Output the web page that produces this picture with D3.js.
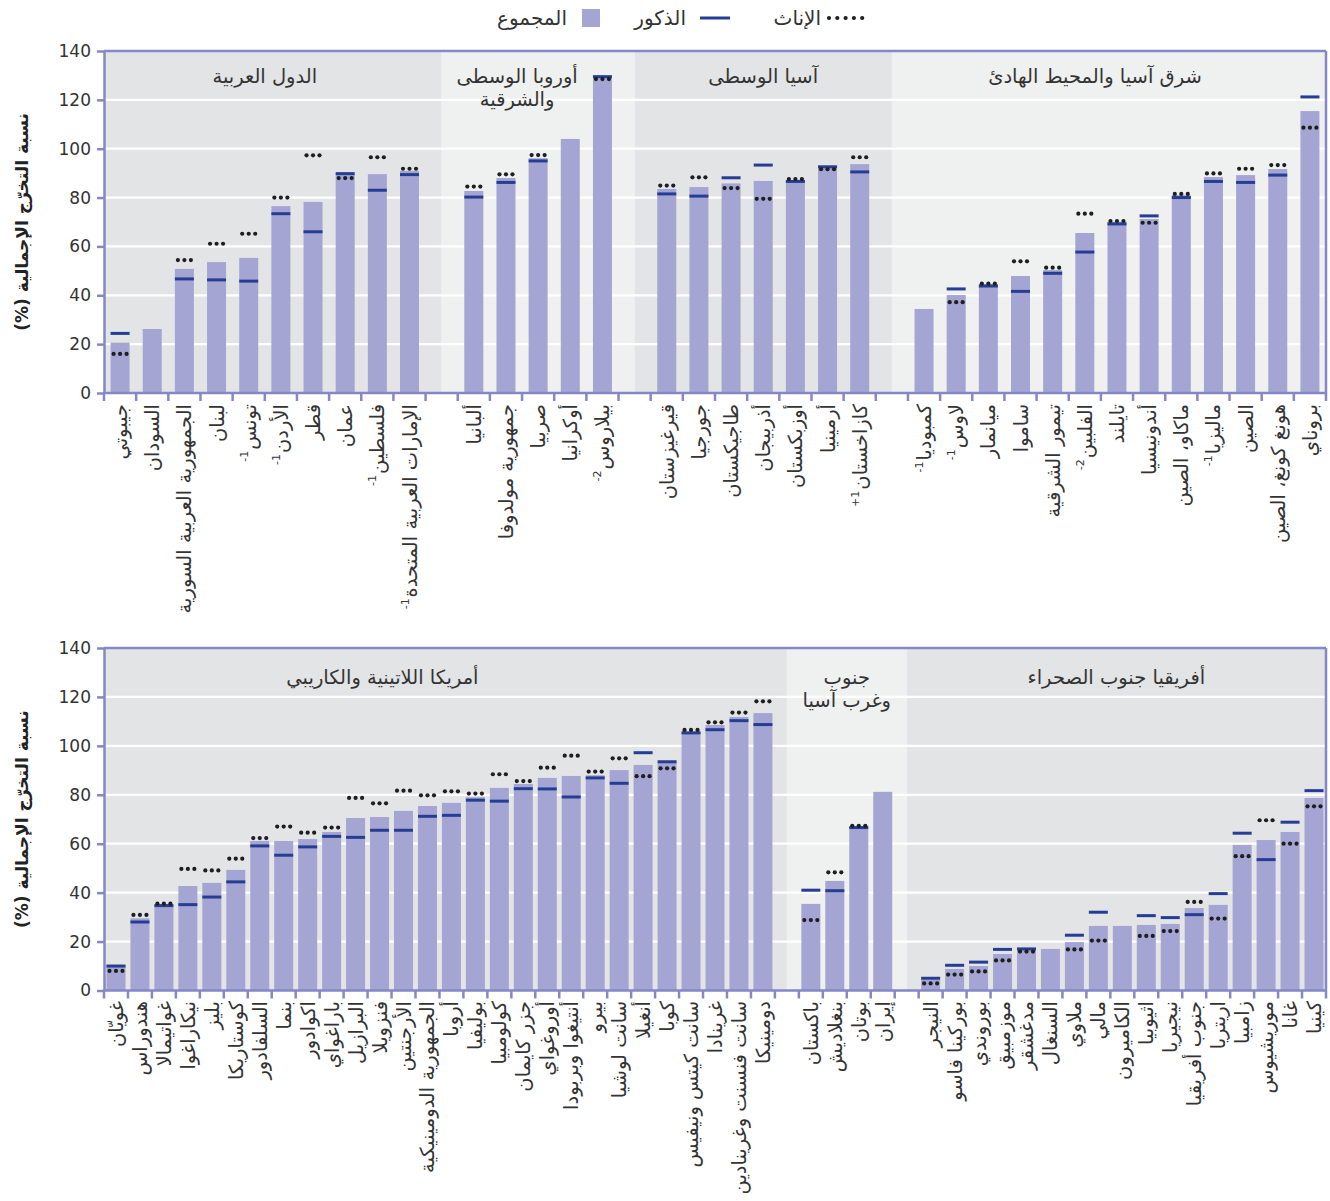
<!DOCTYPE html>
<html><head><meta charset="utf-8">
<script src="https://cdn.jsdelivr.net/npm/d3@7"></script>
<style>body{margin:0;background:#fff;} svg{display:block;} text{font-family:"DejaVu Sans",sans-serif;}</style>
</head><body>
<script>
// ---------- DATA ----------
const topGroupNames = [["الدول العربية"], ["أوروبا الوسطى", "والشرقية"], ["آسيا الوسطى"], ["شرق آسيا والمحيط الهادئ"]];
const topGroupSizes = [10, 5, 7, 13];
const topCountries = ["جيبوتي","السودان","الجمهورية العربية السورية","لبنان","تونس","الأردن","قطر","عمان","فلسطين","الإمارات العربية المتحدة",
  "ألبانيا","جمهورية مولدوفا","صربيا","أوكرانيا","بيلاروس",
  "قيرغيزستان","جورجيا","طاجيكستان","أذربيجان","أوزبكستان","أرمينيا","كازاخستان",
  "كمبوديا","لاوس","ميانمار","ساموا","تيمور الشرقية","الفلبين","تايلند","أندونيسيا","ماكاو، الصين","ماليزيا","الصين","هونغ كونغ، الصين","بروناي"];
const topNotes = ["","","","","-1","-1","","","-1","-1",
  "","","","","-2",
  "","","","","","","+1",
  "-1","-1","","","","-2","","","","-1","","",""];
const topTotal = [20.6,26.2,50.8,53.6,55.3,76.5,78.2,89.6,89.6,90.9,
  82.7,88.0,96.1,104.0,129.8,
  83.5,84.3,85.8,86.8,87.2,92.9,93.7,
  34.4,40.1,44.6,47.9,50.3,65.5,70.1,71.2,81.0,88.4,89.2,91.7,115.4];
const topMale = [24.4,null,46.7,46.3,45.8,73.4,66.0,89.8,83.0,89.4,
  80.2,86.2,95.0,null,129.5,
  81.5,80.6,88.1,93.3,86.6,92.6,90.5,
  null,42.6,43.8,41.6,49.0,57.7,69.2,72.5,80.0,86.6,86.2,89.2,121.2];
const topFemale = [16.0,null,54.4,61.1,65.2,80.0,97.3,88.0,96.5,91.8,
  84.5,89.5,97.4,null,128.5,
  84.9,88.3,83.9,79.5,87.6,91.6,96.5,
  null,37.2,44.8,53.9,51.3,73.4,70.4,69.7,81.5,89.9,91.8,93.3,108.6];

const botGroupNames = [["أمريكا اللاتينية والكاريبي"], ["جنوب", "وغرب آسيا"], ["أفريقيا جنوب الصحراء"]];
const botGroupSizes = [28, 4, 17];
const botCountries = ["غويّان","هندوراس","غواتيمالا","نيكاراغوا","بليز","كوستاريكا","السلفادور","بنما","اكوادور","باراغواي","البرازيل","فنزويلا","الأرجنتين","الجمهورية الدومينيكية","أروبا","بوليفيا","كولومبيا","جزر كايمان","أوروغواي","أنتيغوا وبربودا","بيرو","سانت لوشيا","أنغيلا","كوبا","سانت كيتس ونيفيس","غرينادا","سانت فنسنت وغرينادين","دومينيكا",
  "باكستان","بنغلاديش","بوتان","إيران",
  "النيجر","بوركينا فاسو","بوروندي","موزمبيق","مدغشقر","السنغال","ملاوي","مالي","الكاميرون","اثيوبيا","نيجيريا","جنوب أفريقيا","اريتريا","زامبيا","موريشيوس","غانا","كينيا"];
const botNotes = botCountries.map(() => "");
const botTotal = [10.4,29.5,35.2,42.7,44.0,49.3,61.1,61.1,61.9,64.8,70.5,70.9,73.4,75.4,76.7,79.0,82.8,84.4,86.9,87.7,88.0,90.1,92.2,93.1,105.8,108.5,111.8,113.4,
  35.4,44.8,67.0,81.2,
  4.3,8.8,10.0,14.9,17.0,17.0,19.8,26.4,26.4,26.8,27.2,33.7,35.0,59.5,61.5,64.8,78.7];
const botMale = [10.0,28.0,34.7,35.1,38.2,44.4,59.1,55.3,58.7,63.0,62.6,65.5,65.5,71.2,71.6,77.8,77.4,82.5,82.4,79.1,86.9,84.7,97.2,93.5,105.3,106.6,110.3,108.7,
  41.0,40.8,66.6,null,
  5.0,10.3,11.6,16.8,17.0,null,22.6,32.0,null,30.6,29.8,31.0,39.6,64.3,53.5,68.8,81.7];
const botFemale = [8.0,30.9,35.5,49.7,49.1,53.9,62.3,67.0,64.5,66.6,78.7,76.5,81.7,79.8,81.4,80.5,88.4,85.6,91.1,96.0,89.5,94.9,87.6,90.8,106.5,109.6,113.6,118.2,
  28.8,48.3,67.3,null,
  2.9,6.5,7.8,12.3,15.9,null,16.8,20.4,null,22.3,24.3,36.2,29.4,54.9,69.6,60.0,75.3];

const yTicks = [0,20,40,60,80,100,120,140];
const legendLabels = ["الإناث","الذكور","المجموع"];
const yAxisTitle = "نسبة التخرّج الإجمالية (%)";

// ---------- STYLE ----------
const C = {bar:"#a4a5d3", male:"#263d94", female:"#1e1e1e", dark:"#e3e4e6", light:"#eff0f0",
  axis:"#8587c6", grid:"#ffffff", text:"#333333"};
const BAR_W = 19;

const svg = d3.select("body").append("svg").attr("width",1330).attr("height",1201);

// Legend
(function(){
  const g = svg.append("g");
  for (let i=0;i<5;i++) g.append("circle").attr("cx",829+i*8.3).attr("cy",18).attr("r",2.1).attr("fill",C.female);
  g.append("text").attr("x",821).attr("y",25).attr("text-anchor","end").attr("font-size",20).attr("fill",C.text).text(legendLabels[0]);
  g.append("line").attr("x1",700).attr("x2",730).attr("y1",18).attr("y2",18).attr("stroke",C.male).attr("stroke-width",3);
  g.append("text").attr("x",686).attr("y",25).attr("text-anchor","end").attr("font-size",20).attr("fill",C.text).text(legendLabels[1]);
  g.append("rect").attr("x",582).attr("y",9).attr("width",18).attr("height",18).attr("fill",C.bar);
  g.append("text").attr("x",567).attr("y",25).attr("text-anchor","end").attr("font-size",20).attr("fill",C.text).text(legendLabels[2]);
})();

function panel(cfg){
  const {names, notes, total, male, female, groupNames, groupSizes, y0, y1, titleDx, titleY, labelY} = cfg;
  const slots = []; const groupSlots = [];
  let k = 0;
  groupSizes.forEach((n, gi) => {
    if (gi>0) slots.push("gap"+gi);
    const arr = [];
    for (let i=0;i<n;i++){ slots.push("c"+k); arr.push("c"+k); k++; }
    groupSlots.push(arr);
  });
  const x = d3.scaleBand().domain(slots).range([104,1326]).padding(0);
  const y = d3.scaleLinear().domain([0,140]).range([y0,y1]);
  const bw = x.bandwidth();
  const g = svg.append("g");

  groupSlots.forEach((arr, gi) => {
    let a = x(arr[0]), b = x(arr[arr.length-1]) + bw;
    if (gi>0) a -= bw/2;
    if (gi<groupSlots.length-1) b += bw/2;
    g.append("rect").attr("x",a).attr("y",y(140)).attr("width",b-a).attr("height",y(0)-y(140))
      .attr("fill", gi%2===0 ? C.dark : C.light);
  });
  g.selectAll(".grid").data(yTicks.filter(t=>t>0 && t<140)).enter().append("line")
    .attr("x1",104).attr("x2",1326).attr("y1",d=>y(d)).attr("y2",d=>y(d))
    .attr("stroke",C.grid).attr("stroke-width",2.2);
  groupSlots.forEach((arr, gi) => {
    let a = x(arr[0]), b = x(arr[arr.length-1]) + bw;
    const cx = (a+b)/2 + titleDx[gi];
    groupNames[gi].forEach((line, li) => {
      g.append("text").attr("x",cx).attr("y",titleY + li*22.5).attr("text-anchor","middle")
        .attr("font-size",19.5).attr("fill",C.text).text(line);
    });
  });
  const idx = d3.range(names.length);
  const cxOf = i => x("c"+i) + bw/2;
  g.selectAll(".bar").data(idx).enter().append("rect")
    .attr("x",i=>cxOf(i)-BAR_W/2).attr("width",BAR_W)
    .attr("y",i=>y(total[i])).attr("height",i=>y(0)-y(total[i])).attr("fill",C.bar);
  g.selectAll(".male").data(idx.filter(i=>male[i]!=null)).enter().append("line")
    .attr("x1",i=>cxOf(i)-BAR_W/2).attr("x2",i=>cxOf(i)+BAR_W/2)
    .attr("y1",i=>y(male[i])).attr("y2",i=>y(male[i]))
    .attr("stroke",C.male).attr("stroke-width",3);
  idx.filter(i=>female[i]!=null).forEach(i => {
    [-6.5,0,6.5].forEach(dx => g.append("circle").attr("cx",cxOf(i)+dx).attr("cy",y(female[i])).attr("r",2.1).attr("fill",C.female));
  });
  const ya = d3.axisLeft(y).tickValues(yTicks).tickSize(7).tickSizeOuter(0).tickPadding(6);
  const yg = g.append("g").attr("transform","translate(104,0)").call(ya);
  yg.select(".domain").attr("stroke",C.axis).attr("stroke-width",2.5);
  yg.selectAll(".tick line").attr("stroke",C.axis).attr("stroke-width",2.5);
  yg.selectAll(".tick text").attr("font-size",17).attr("fill",C.text).attr("font-family","DejaVu Sans, sans-serif");
  g.append("line").attr("x1",104).attr("x2",1326).attr("y1",y(140)).attr("y2",y(140)).attr("stroke",C.axis).attr("stroke-width",2.5);
  g.append("line").attr("x1",1326).attr("x2",1326).attr("y1",y(140)).attr("y2",y(0)).attr("stroke",C.axis).attr("stroke-width",2.5);
  g.append("line").attr("x1",103).attr("x2",1327).attr("y1",y(0)).attr("y2",y(0)).attr("stroke",C.axis).attr("stroke-width",2.5);
  const edges = slots.map(s=>x(s)).concat([x.range()[1]]);
  g.selectAll(".xt").data(edges).enter().append("line")
    .attr("x1",d=>d).attr("x2",d=>d).attr("y1",y(0)).attr("y2",y(0)+8)
    .attr("stroke",C.axis).attr("stroke-width",2.5);
  idx.forEach(i => {
    const lg = g.append("g").attr("transform",`translate(${cxOf(i)+7},${labelY}) rotate(-90)`);
    const t = lg.append("text").attr("x",0).attr("y",0).attr("text-anchor","end")
      .attr("font-size",19.5).attr("fill",C.text).text(names[i]);
    if (notes[i]) {
      const L = t.node().getComputedTextLength();
      lg.append("text").attr("x",-L-1).attr("y",-8).attr("text-anchor","end")
        .attr("font-size",11).attr("fill",C.text).text(notes[i]);
    }
  });
  svg.append("text").attr("transform",`translate(28,${(y0+y1)/2}) rotate(-90)`).attr("text-anchor","middle")
    .attr("direction","rtl").style("direction","rtl").style("unicode-bidi","embed")
    .attr("font-size",17).attr("font-weight","bold").attr("fill","#222").text(yAxisTitle);
}

panel({names:topCountries, notes:topNotes, total:topTotal, male:topMale, female:topFemale,
  groupNames:topGroupNames, groupSizes:topGroupSizes, y0:393, y1:51,
  titleDx:[0,-21,0,-22], titleY:83, labelY:404});
panel({names:botCountries, notes:botNotes, total:botTotal, male:botMale, female:botFemale,
  groupNames:botGroupNames, groupSizes:botGroupSizes, y0:990.5, y1:648,
  titleDx:[-57,0,-6], titleY:684, labelY:1001});
</script>
</body></html>
